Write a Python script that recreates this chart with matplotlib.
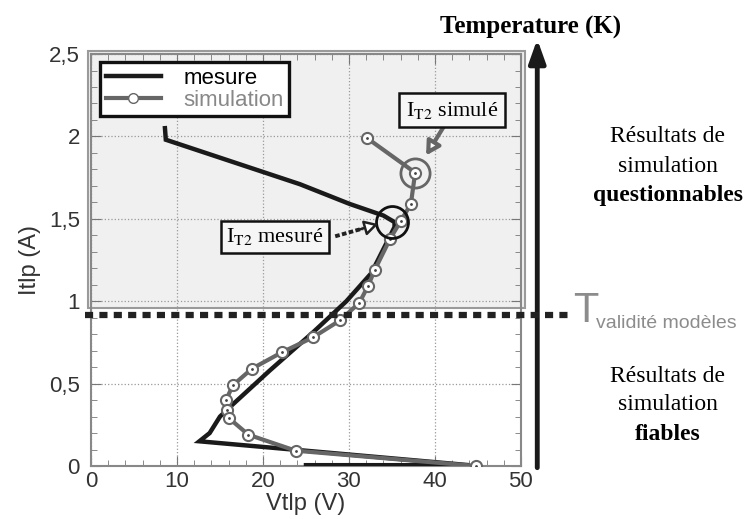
import matplotlib
matplotlib.use("Agg")
import matplotlib.pyplot as plt
from matplotlib.lines import Line2D
from matplotlib.patches import Rectangle
from matplotlib.ticker import MultipleLocator, FuncFormatter

# mesures TLP (Vtlp en V, Itlp en A)
v_mes = [25.0, 44.0, 12.6, 13.8, 15.0, 16.2, 20.8, 25.8, 29.7, 32.6, 35.3,
         35.3, 34.0, 30.1, 24.3, 8.7, 8.6]
i_mes = [0.005, 0.005, 0.15, 0.20, 0.30, 0.36, 0.58, 0.81, 1.00, 1.17, 1.45,
         1.48, 1.52, 1.59, 1.71, 1.98, 2.05]

# simulation
v_sim = [32.1, 37.7, 37.2, 36.0, 34.8, 33.0, 32.2, 31.2, 29.0, 25.8, 22.2,
         18.7, 16.5, 15.7, 15.85, 16.05, 18.3, 23.8, 44.8]
i_sim = [1.99, 1.78, 1.59, 1.485, 1.38, 1.19, 1.09, 0.99, 0.885, 0.78, 0.69,
         0.59, 0.49, 0.40, 0.34, 0.29, 0.19, 0.093, 0.0]

it2_mes = (35.0, 1.48)
it2_sim = (37.7, 1.78)
i_validite = 0.915
lim_gris = 0.96

lignes_haut = ['Résultats de', 'simulation', 'questionnables']
lignes_bas = ['Résultats de', 'simulation', 'fiables']

plt.rcParams['font.family'] = ['Liberation Sans', 'DejaVu Sans']
plt.rcParams['mathtext.fontset'] = 'stix'

fig = plt.figure(figsize=(7.49, 5.19), dpi=100)
ax = fig.add_axes([0.1215, 0.1021, 0.574, 0.7938])
ax.set_xlim(0, 50)
ax.set_ylim(0, 2.5)

gris = '#666666'
serif = ['Liberation Serif', 'DejaVu Serif']

# zone grisée (résultats questionnables)
ax.add_patch(Rectangle((-0.35, lim_gris), 50.8, 2.5 - lim_gris + 0.02,
                       facecolor='#f0f0f0', edgecolor='#9a9a9a', lw=1.5,
                       clip_on=False, zorder=0))

ax.grid(True, which='major', linestyle=':', color='#999999', lw=0.9)
ax.set_axisbelow(True)

ax.xaxis.set_major_locator(MultipleLocator(10))
ax.xaxis.set_minor_locator(MultipleLocator(2))
ax.yaxis.set_major_locator(MultipleLocator(0.5))
ax.yaxis.set_minor_locator(MultipleLocator(0.1))
ax.yaxis.set_major_formatter(FuncFormatter(lambda v, p: ('%g' % v).replace('.', ',')))
ax.tick_params(which='both', direction='in', top=True, right=True,
               colors='#777777', labelcolor='#333333', labelsize=16)
ax.tick_params(which='major', length=7)
ax.tick_params(which='minor', length=4)
ax.tick_params(axis='y', pad=8)
for s in ax.spines.values():
    s.set_color('#888888')
    s.set_linewidth(1.5)

ax.set_xlabel('Vtlp (V)', fontsize=17, color='#333333', labelpad=1)
ax.set_ylabel('Itlp (A)', fontsize=17, color='#333333', labelpad=6)

# courbes
ax.plot(v_mes, i_mes, color='#1a1a1a', lw=3.2, zorder=3, solid_joinstyle='miter')
ax.plot(v_sim, i_sim, color=gris, lw=3, marker='o', ms=8, mfc='white',
        mec=gris, mew=1.5, zorder=4)
ax.plot(v_sim, i_sim, ls='none', marker='.', ms=2, color='#444444', zorder=5)

# cercles IT2
ax.plot(*it2_sim, marker='o', ms=21, mfc='none', mec=gris, mew=2, zorder=6)
ax.plot(*it2_mes, marker='o', ms=23, mfc='none', mec='#111111', mew=2, zorder=6)

# ligne de validité
ax.plot([-0.7, 55.9], [i_validite, i_validite], color='#222222', lw=4.5,
        dashes=(1.3, 1.0), clip_on=False, zorder=7, solid_capstyle='butt')

# flèche température
ax.annotate('', xy=(51.9, 2.59), xytext=(51.9, -0.01),
            arrowprops=dict(arrowstyle='-|>,head_length=1.4,head_width=0.5',
                            lw=3.5, color='#1a1a1a', shrinkA=0, shrinkB=0),
            annotation_clip=False)
fig.text(531 / 749, 1 - 27 / 519, 'Temperature (K)', family=serif,
         fontweight='bold', fontsize=18, ha='center', va='center')

# textes à droite
for k, (th, tb) in enumerate(zip(lignes_haut, lignes_bas)):
    w = 'bold' if k == 2 else 'normal'
    fig.text(668 / 749, 1 - (137 + 29 * k) / 519, th, family=serif,
             fontsize=17, fontweight=w, ha='center', va='center')
    fig.text(668 / 749, 1 - (376 + 29 * k) / 519, tb, family=serif,
             fontsize=17, fontweight=w, ha='center', va='center')
fig.text(573 / 749, 1 - 311 / 519, 'T', fontsize=30, color='#8c8c8c',
         ha='left', va='center')
fig.text(596 / 749, 1 - 323 / 519, 'validité modèles', fontsize=14,
         color='#8c8c8c', ha='left', va='center')

# annotations IT2
ax.text(21.4, 1.39, r'I$_{\mathrm{T2}}$ mesuré', family=serif, fontsize=16,
        ha='center', va='center', zorder=8,
        bbox=dict(boxstyle='square,pad=0.25', fc='#f6f6f6', ec='#111111', lw=1.8))
ax.plot([28.4, 31.6], [1.394, 1.441], color='#222222', lw=2.8, dashes=(1.2, 0.6), zorder=8)
ax.annotate('', xy=(33.4, 1.468), xytext=(31.2, 1.435),
            arrowprops=dict(arrowstyle='-|>,head_length=0.8,head_width=0.45',
                            lw=1.8, color='#222222', fc='white',
                            shrinkA=0, shrinkB=0), zorder=9)
ax.text(42.0, 2.16, r'I$_{\mathrm{T2}}$ simulé', family=serif, fontsize=16,
        ha='center', va='center', zorder=8,
        bbox=dict(boxstyle='square,pad=0.3', fc='#f6f6f6', ec='#111111', lw=1.8))
ax.annotate('', xy=(38.8, 1.87), xytext=(41.5, 2.10),
            arrowprops=dict(arrowstyle='-|>,head_length=0.8,head_width=0.45',
                            lw=3, color=gris, fc='white'))

# légende
handles = [Line2D([], [], color='#1a1a1a', lw=3.2),
           Line2D([], [], color=gris, lw=3, marker='o', ms=7, mfc='white', mec=gris)]
leg = ax.legend(handles, ['mesure', 'simulation'], loc='upper left',
                bbox_to_anchor=(0.021, 0.98), fontsize=16, frameon=True,
                fancybox=False, edgecolor='#111111', framealpha=1,
                handlelength=2.5, borderpad=0.25, labelspacing=0.05,
                handletextpad=1.0, borderaxespad=0)
leg.get_frame().set_linewidth(2.4)
leg.get_texts()[1].set_color('#888888')
leg.set_zorder(9)

fig.savefig('out.png', dpi=100)
